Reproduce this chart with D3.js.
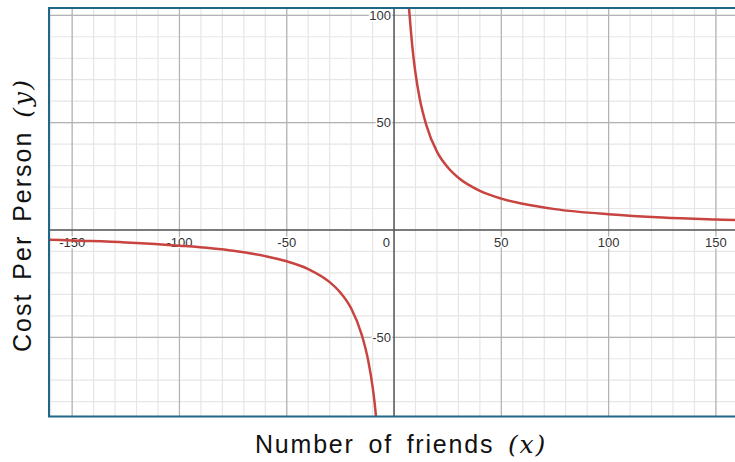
<!DOCTYPE html>
<html>
<head>
<meta charset="utf-8">
<script src="https://cdn.jsdelivr.net/npm/d3@7"></script>
<style>
  body { margin: 0; background: #fff; }
  svg { display: block; }
</style>
</head>
<body>
<div id="chart"></div>
<script>
// points, positive branch and negative branch
var posX = [7, 8, 9, 10, 12, 15, 20, 25, 30, 40, 50, 60, 75, 100, 125, 150, 160];
var posY = [103, 91, 81, 73, 61, 49, 36.5, 29.2, 24.3, 18.2, 14.6, 12.2, 9.7, 7.3, 5.8, 4.9, 4.6];
var negX = [-161, -150, -125, -100, -75, -60, -50, -40, -30, -25, -20, -15, -12, -10, -9, -8.3];
var negY = [-4.5, -4.9, -5.8, -7.3, -9.7, -12.2, -14.6, -18.2, -24.3, -29.2, -36.5, -49, -61, -73, -81, -88];

var majorTicks = [-150, -100, -50, 0, 50, 100, 150];
var yTickVals = [-50, 50, 100];

const margin = { top: 8, right: 0, bottom: 45.5, left: 49 };
const width = 735, height = 462;
const plotW = width - margin.left - margin.right;
const plotH = height - margin.top - margin.bottom;

const svg = d3.select("#chart")
  .append("svg")
  .attr("width", width)
  .attr("height", height);

const g = svg.append("g")
  .attr("transform", `translate(${margin.left},${margin.top})`);

// scales (same px per unit both ways)
const x = d3.scaleLinear().domain([-160.8, 158.9]).range([0, plotW]);
const y = d3.scaleLinear().domain([103.4, -86.9]).range([0, plotH]);

g.append("clipPath").attr("id", "clip")
  .append("rect").attr("width", plotW).attr("height", plotH);

const grid = g.append("g").attr("clip-path", "url(#clip)");

// minor grid every 10
const minorX = d3.range(-160, 161, 10);
const minorY = d3.range(-80, 101, 10);
grid.selectAll(".vminor").data(minorX).enter().append("line")
  .attr("x1", d => x(d)).attr("x2", d => x(d))
  .attr("y1", 0).attr("y2", plotH)
  .attr("stroke", "#e6e6e6").attr("stroke-width", 1.2);
grid.selectAll(".hminor").data(minorY).enter().append("line")
  .attr("y1", d => y(d)).attr("y2", d => y(d))
  .attr("x1", 0).attr("x2", plotW)
  .attr("stroke", "#e6e6e6").attr("stroke-width", 1.2);

// major grid every 50
grid.selectAll(".vmajor").data(majorTicks.filter(d => d != 0)).enter().append("line")
  .attr("x1", d => x(d)).attr("x2", d => x(d))
  .attr("y1", 0).attr("y2", plotH)
  .attr("stroke", "#b3b3b3").attr("stroke-width", 1.2);
grid.selectAll(".hmajor").data([-50, 50, 100]).enter().append("line")
  .attr("y1", d => y(d)).attr("y2", d => y(d))
  .attr("x1", 0).attr("x2", plotW)
  .attr("stroke", "#b3b3b3").attr("stroke-width", 1.2);

// axes lines
grid.append("line")
  .attr("x1", x(0)).attr("x2", x(0)).attr("y1", 0).attr("y2", plotH)
  .attr("stroke", "#555").attr("stroke-width", 1.5);
grid.append("line")
  .attr("y1", y(0)).attr("y2", y(0)).attr("x1", 0).attr("x2", plotW)
  .attr("stroke", "#555").attr("stroke-width", 1.5);

// tick labels
const labelStyle = sel => sel
  .style("font-family", "Arial, 'Liberation Sans', sans-serif")
  .style("font-size", "13px")
  .attr("fill", "#333")
  .attr("stroke", "#fff").attr("stroke-width", 3)
  .attr("paint-order", "stroke");

g.selectAll(".xlab").data(majorTicks.filter(d => d != 0)).enter().append("text")
  .attr("x", d => x(d)).attr("y", y(0) + 17)
  .attr("text-anchor", "middle")
  .text(d => d)
  .call(labelStyle);

g.append("text")
  .attr("x", x(0) - 4).attr("y", y(0) + 17)
  .attr("text-anchor", "end")
  .text("0")
  .call(labelStyle);

g.selectAll(".ylab").data(yTickVals).enter().append("text")
  .attr("x", x(0) - 3).attr("y", d => y(d) + 4.5)
  .attr("text-anchor", "end")
  .text(d => d)
  .call(labelStyle);

// the curve
const line = d3.line()
  .x(d => x(d[0]))
  .y(d => y(d[1]))
  .curve(d3.curveMonotoneX);

const curves = g.append("g").attr("clip-path", "url(#clip)");
curves.append("path")
  .datum(posX.map((d, i) => [d, posY[i]]))
  .attr("d", line)
  .attr("fill", "none")
  .attr("stroke", "#c74440")
  .attr("stroke-width", 2.5);
curves.append("path")
  .datum(negX.map((d, i) => [d, negY[i]]))
  .attr("d", line)
  .attr("fill", "none")
  .attr("stroke", "#c74440")
  .attr("stroke-width", 2.5);

// frame (top, left, bottom)
g.append("path")
  .attr("d", `M${plotW + 2},0 H0 V${plotH} H${plotW + 2}`)
  .attr("fill", "none")
  .attr("stroke", "#1f6688")
  .attr("stroke-width", 2);

// axis titles
const xt = svg.append("text")
  .attr("x", 401).attr("y", 453)
  .attr("text-anchor", "middle")
  .style("font-family", "'Liberation Sans', Arial, sans-serif")
  .style("font-size", "25px")
  .style("letter-spacing", "1.8px")
  .style("word-spacing", "5px")
  .attr("fill", "#111");
xt.append("tspan").text("Number of friends ");
xt.append("tspan").style("font-family", "'DejaVu Serif', serif").style("font-style", "italic").text("(x)");

const yt = svg.append("text")
  .attr("transform", "translate(31,215) rotate(-90)")
  .attr("text-anchor", "middle")
  .style("font-family", "'Liberation Sans', Arial, sans-serif")
  .style("font-size", "25px")
  .style("letter-spacing", "2px")
  .style("word-spacing", "4px")
  .attr("fill", "#111");
yt.append("tspan").text("Cost Per Person ");
yt.append("tspan").style("font-family", "'DejaVu Serif', serif").style("font-style", "italic").text("(y)");
</script>
</body>
</html>
